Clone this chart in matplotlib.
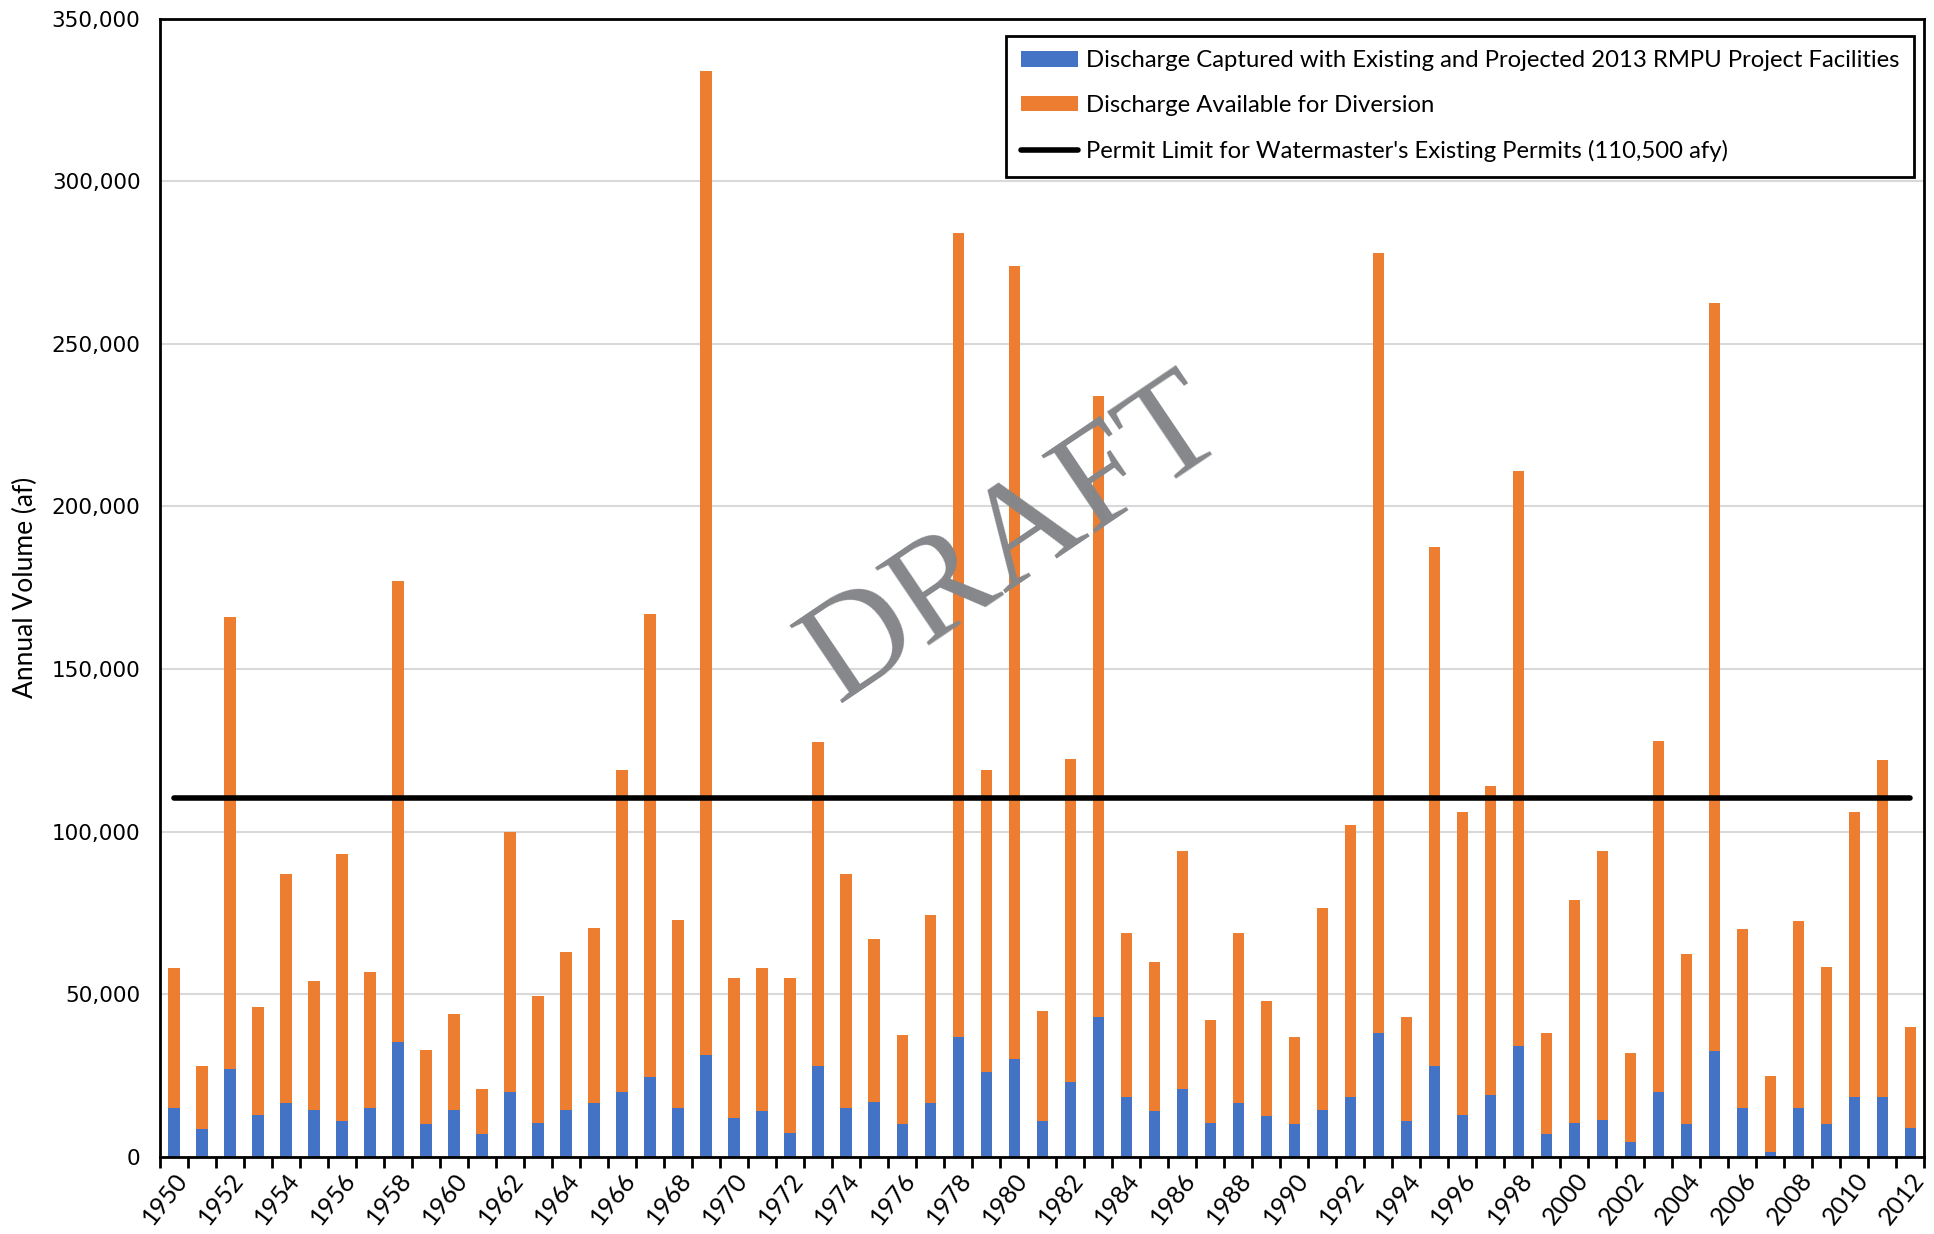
import numpy as np
import matplotlib.pyplot as plt
from matplotlib.ticker import FuncFormatter

# Annual discharge, 1950-2012 (af)
years = list(range(1950, 2013))
total = [58000, 28000, 166000, 46000, 87000, 54000, 93000, 57000, 177000, 33000,
         44000, 21000, 100000, 49500, 63000, 70500, 119000, 167000, 73000, 334000,
         55000, 58000, 55000, 127500, 87000, 67000, 37500, 74500, 284000, 119000,
         274000, 45000, 122500, 234000, 69000, 60000, 94000, 42000, 69000, 48000,
         37000, 76500, 102000, 278000, 43000, 187500, 106000, 114000, 211000, 38000,
         79000, 94000, 32000, 128000, 62500, 262500, 70000, 25000, 72500, 58500,
         106000, 122000, 40000]
captured = [15000, 8500, 27000, 13000, 16500, 14500, 11000, 15000, 35500, 10000,
            14500, 7000, 20000, 10500, 14500, 16500, 20000, 24500, 15000, 31500,
            12000, 14000, 7500, 28000, 15000, 17000, 10000, 16500, 37000, 26000,
            30000, 11000, 23000, 43000, 18500, 14000, 21000, 10500, 16500, 12500,
            10000, 14500, 18500, 38000, 11000, 28000, 13000, 19000, 34000, 7000,
            10500, 11500, 4500, 20000, 10000, 32500, 15000, 1500, 15000, 10000,
            18500, 18500, 9000]
available = [t - c for t, c in zip(total, captured)]
permit_limit = 110500

narrow = ['Lato', 'DejaVu Sans']

fig = plt.figure(figsize=(19.34, 12.34), dpi=100)
ax = fig.add_axes([0.0827, 0.0624, 0.9123, 0.9226])

x = np.arange(len(years))
b1 = ax.bar(x, captured, width=0.4, color='#4472C4', zorder=2)
b2 = ax.bar(x, available, width=0.4, bottom=captured, color='#ED7D31', zorder=2)
ln, = ax.plot(x, [permit_limit] * len(x), color='black', linewidth=4,
              solid_capstyle='round', zorder=3)

ax.set_xlim(-0.5, len(years) - 0.5)
ax.set_ylim(0, 350000)
ax.set_yticks(range(0, 350001, 50000))
ax.yaxis.set_major_formatter(FuncFormatter(lambda v, p: f'{int(v):,}'))
ax.grid(axis='y', color='#d9d9d9', linewidth=1.5, zorder=0)
ax.tick_params(axis='y', length=0, labelsize=15.5, pad=14)

# year labels every other bar, tick marks on category boundaries
ax.set_xticks(x[::2])
ax.set_xticklabels([str(y) for y in years[::2]], rotation=52, ha='right',
                   va='top', rotation_mode='anchor', family=narrow, fontsize=18)
ax.set_xticks(np.arange(-0.5, len(years), 1), minor=True)
ax.tick_params(axis='x', which='major', length=0, pad=8)
ax.tick_params(axis='x', which='minor', length=8, width=2, direction='out')

for s in ax.spines.values():
    s.set_linewidth(2)
    s.set_color('black')

ax.set_ylabel('Annual Volume (af)', family=narrow, fontsize=19, labelpad=10)

leg = ax.legend([b1, b2, ln],
                ['Discharge Captured with Existing and Projected 2013 RMPU Project Facilities',
                 'Discharge Available for Diversion',
                 "Permit Limit for Watermaster's Existing Permits (110,500 afy)"],
                loc='upper right', bbox_to_anchor=(0.994, 0.985), borderaxespad=0,
                fancybox=False, edgecolor='black', prop={'family': narrow, 'size': 17.2},
                handlelength=2.4, handleheight=0.6, labelspacing=1.0,
                borderpad=0.62, handletextpad=0.3, framealpha=1)
leg.get_frame().set_linewidth(2)

# watermark
ax.text(0.485, 0.54, 'DRAFT', transform=ax.transAxes, rotation=34,
        ha='center', va='center', fontsize=104, family='Liberation Serif',
        color='#85878b', zorder=4)

plt.savefig('out.png', dpi=100)
